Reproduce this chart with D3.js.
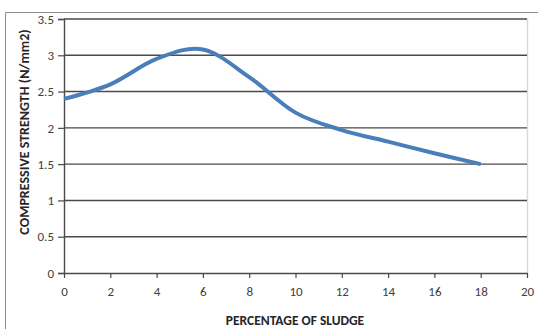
<!DOCTYPE html>
<html><head><meta charset="utf-8">
<script src="https://cdn.jsdelivr.net/npm/d3@7"></script>
<style>body{margin:0;background:#fff}svg{display:block}</style>
</head><body>
<script>
const sludge = [0, 2, 4, 6, 8, 10, 12, 14, 16, 18];
const strength = [2.4, 2.6, 2.95, 3.08, 2.7, 2.21, 1.97, 1.81, 1.65, 1.5];
const xTicks = [0, 2, 4, 6, 8, 10, 12, 14, 16, 18, 20];
const yTicks = [0, 0.5, 1, 1.5, 2, 2.5, 3, 3.5];
const yTickLabels = ["0", "0.5", "1", "1.5", "2", "2.5", "3", "3.5"];

const W = 538, H = 329;
const svg = d3.select("body").append("svg").attr("width", W).attr("height", H);
const x = d3.scaleLinear().domain([0, 20]).range([64, 527]);
const y = d3.scaleLinear().domain([0, 3.5]).range([273, 19]);
const font = "Carlito, 'Open Sans', 'Liberation Sans', sans-serif";

// outer frame
svg.append("path").attr("d", `M5.5,${H} V12.5 H${W}`).attr("fill", "none").attr("stroke", "#8c8c8c").attr("stroke-width", 1);
// plot right border
svg.append("line").attr("x1", 527.5).attr("x2", 527.5).attr("y1", 19).attr("y2", 273).attr("stroke", "#d9d9d9").attr("stroke-width", 1.5);

// gridlines
svg.append("g").selectAll("line").data(yTicks.filter(d => d > 0)).join("line")
  .attr("x1", 64).attr("x2", 527).attr("y1", d => y(d)).attr("y2", d => y(d))
  .attr("stroke", "#4a4a4a").attr("stroke-width", 1.4);

// y axis
const yAxis = d3.axisLeft(y).tickValues(yTicks).tickSize(6).tickPadding(4).tickFormat((d, i) => yTickLabels[i]);
const gy = svg.append("g").attr("transform", "translate(64,0)").call(yAxis);
gy.select(".domain").attr("stroke", "#4a4a4a").attr("stroke-width", 1.4);
gy.selectAll(".tick line").attr("stroke", "#4a4a4a").attr("stroke-width", 1.2);
gy.selectAll("text").attr("font-family", font).attr("font-size", 13).attr("fill", "#404040");

// x axis
const xAxis = d3.axisBottom(x).tickValues(xTicks).tickSize(5).tickPadding(9).tickSizeOuter(0);
const gx = svg.append("g").attr("transform", "translate(0,273)").call(xAxis);
gx.select(".domain").attr("stroke", "#4a4a4a").attr("stroke-width", 1.6);
gx.selectAll(".tick line").attr("stroke", "#4a4a4a").attr("stroke-width", 1.2);
gx.selectAll("text").attr("font-family", font).attr("font-size", 13).attr("fill", "#404040");

// line
const line = d3.line().x((d, i) => x(sludge[i])).y(d => y(d)).curve(d3.curveCardinal.tension(0));
svg.append("path").datum(strength).attr("d", line).attr("fill", "none")
  .attr("stroke", "#4a7ebb").attr("stroke-width", 4).attr("stroke-linecap", "butt");

// titles
svg.append("text").attr("x", 295).attr("y", 325).attr("text-anchor", "middle")
  .attr("font-family", font).attr("font-weight", "bold").attr("font-size", 13.5).attr("fill", "#262626")
  .text("PERCENTAGE OF SLUDGE");
svg.append("text").attr("transform", "translate(29,132) rotate(-90)").attr("text-anchor", "middle")
  .attr("font-family", font).attr("font-weight", "bold").attr("font-size", 14).attr("fill", "#262626")
  .text("COMPRESSIVE STRENGTH (N/mm2)");
</script>
</body></html>
